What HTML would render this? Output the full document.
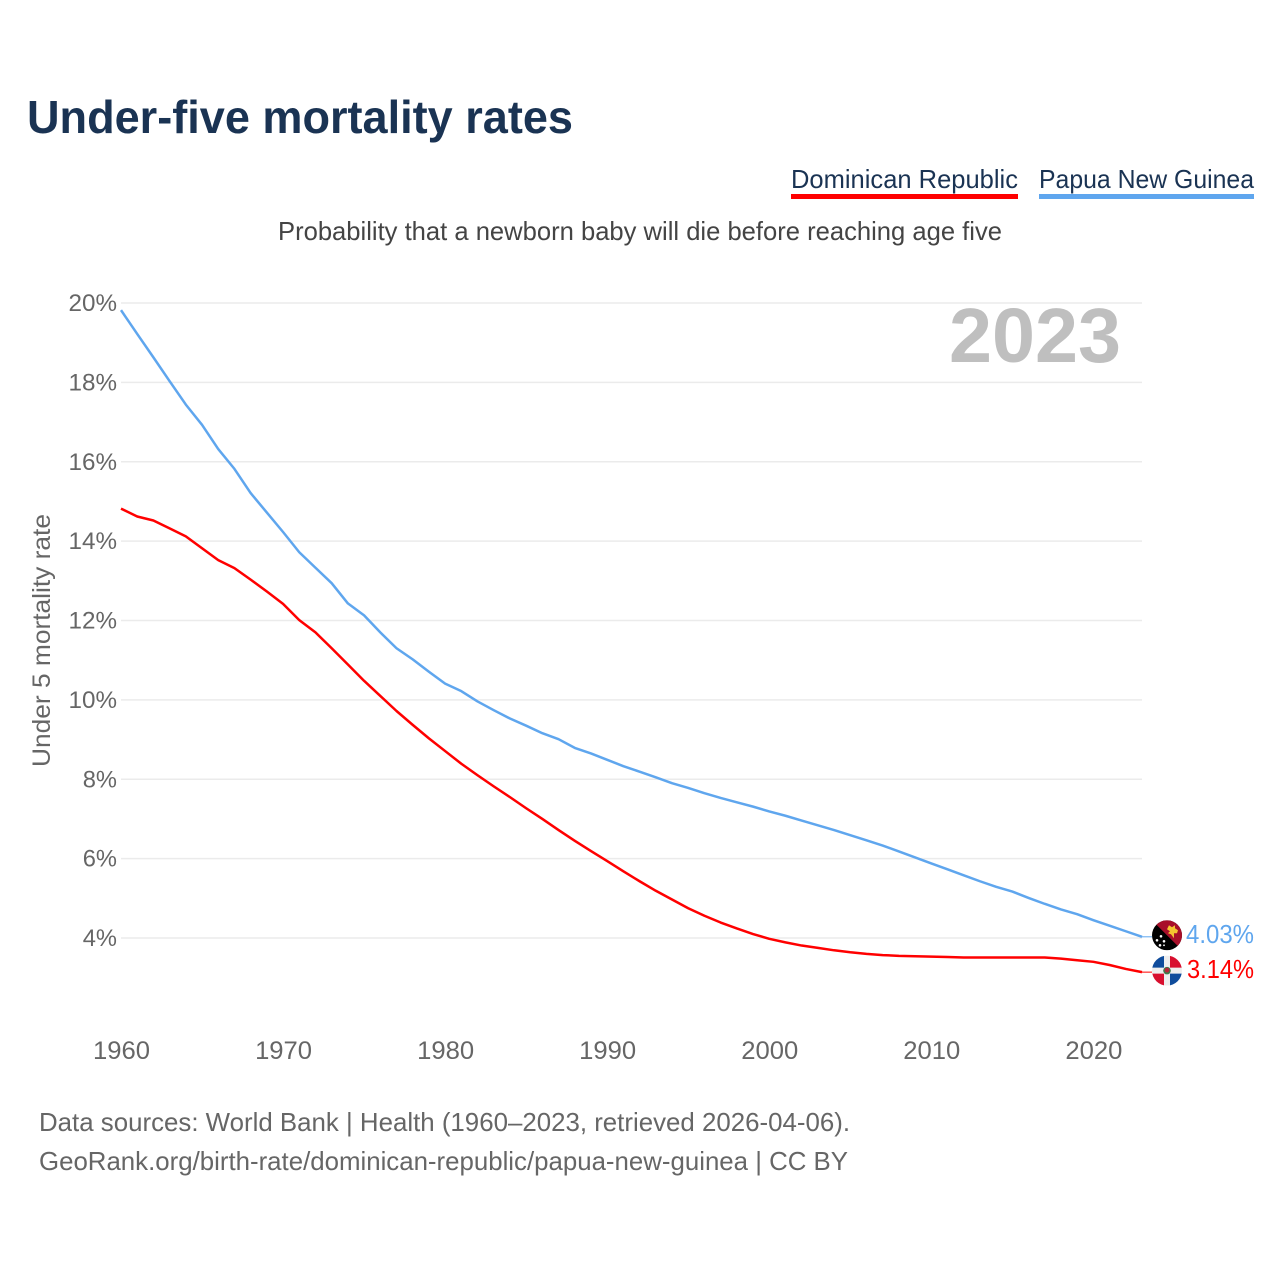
<!DOCTYPE html>
<html lang="en">
<head>
<meta charset="utf-8">
<title>Under-five mortality rates</title>
<style>
html,body{margin:0;padding:0;background:#fff;}
svg{display:block;font-family:"Liberation Sans",sans-serif;}
</style>
</head>
<body>
<svg id="chart" xmlns="http://www.w3.org/2000/svg" width="1280" height="1280" viewBox="0 0 1280 1280">
  <rect x="0" y="0" width="1280" height="1280" fill="#ffffff"/>
  <text x="27" y="133" font-size="46" font-weight="700" fill="#1a3353" textLength="546" lengthAdjust="spacingAndGlyphs">Under-five mortality rates</text>

  <g>
    <text x="791" y="188" font-size="26" fill="#1a3353" textLength="227" lengthAdjust="spacingAndGlyphs">Dominican Republic</text>
    <rect x="791" y="194" width="227" height="5" fill="#ff0000"/>
  </g>
  <g>
    <text x="1039" y="188" font-size="26" fill="#1a3353" textLength="215" lengthAdjust="spacingAndGlyphs">Papua New Guinea</text>
    <rect x="1039" y="194" width="215" height="5" fill="#5fa6ee"/>
  </g>

  <text x="278" y="240" font-size="26" fill="#444444" textLength="724" lengthAdjust="spacingAndGlyphs">Probability that a newborn baby will die before reaching age five</text>

  <g id="grid"></g>
  <g id="y-ticks"></g>
  <g id="x-ticks"></g>

  <text transform="translate(50,767) rotate(-90)" x="0" y="0" font-size="25" fill="#666666" textLength="253" lengthAdjust="spacingAndGlyphs">Under 5 mortality rate</text>

  <text x="949" y="362" font-size="77" font-weight="700" fill="#bfbfbf" textLength="172" lengthAdjust="spacingAndGlyphs">2023</text>

  <g id="series"></g>

  <defs>
    <clipPath id="flag-clip"><circle cx="0" cy="0" r="15"/></clipPath>
  </defs>

  <g id="flag-pg">
    <g clip-path="url(#flag-clip)">
      <rect x="-15" y="-15" width="30" height="30" fill="#000000"/>
      <polygon points="-15,-15 15,-15 15,15" fill="#a80f2a"/>
      <polygon points="0,-6 2,-10 5,-8 8,-10 8,-7 11,-5 10,-2 7,-2 7,3 4,-1 1,-2 3,-4" fill="#f4c430"/>
      <circle cx="-6" cy="1" r="1.3" fill="#fff"/>
      <circle cx="-10" cy="5" r="1.3" fill="#fff"/>
      <circle cx="-3" cy="6" r="1.3" fill="#fff"/>
      <circle cx="-7" cy="10" r="1.3" fill="#fff"/>
      <circle cx="-3" cy="10" r="0.9" fill="#fff"/>
    </g>
  </g>
  <g id="flag-do">
    <g clip-path="url(#flag-clip)">
      <rect x="-15" y="-15" width="30" height="30" fill="#eeeeee"/>
      <rect x="-15" y="-15" width="12" height="12" fill="#0f4c9c"/>
      <rect x="3" y="-15" width="12" height="12" fill="#d80f2e"/>
      <rect x="-15" y="3" width="12" height="12" fill="#d80f2e"/>
      <rect x="3" y="3" width="12" height="12" fill="#0f4c9c"/>
      <circle cx="0" cy="0" r="3.8" fill="#3f7a4a"/>
      <circle cx="0" cy="-0.5" r="2.4" fill="#b5263a"/>
    </g>
  </g>

  <text id="label-pg" x="1186" font-size="26" fill="#5fa6ee" textLength="68" lengthAdjust="spacingAndGlyphs"></text>
  <text id="label-do" x="1187" font-size="26" fill="#ff0000" textLength="67" lengthAdjust="spacingAndGlyphs"></text>

  <text x="39" y="1131" font-size="26" fill="#666666" textLength="811" lengthAdjust="spacingAndGlyphs">Data sources: World Bank | Health (1960–2023, retrieved 2026-04-06).</text>
  <text x="39" y="1170" font-size="26" fill="#666666" textLength="809" lengthAdjust="spacingAndGlyphs">GeoRank.org/birth-rate/dominican-republic/papua-new-guinea | CC BY</text>
</svg>

<script>
const startYear = 1960;
const xTickYears = [1960, 1970, 1980, 1990, 2000, 2010, 2020];
const yTickValues = [4, 6, 8, 10, 12, 14, 16, 18, 20];
const papuaNewGuinea = [
  19.82, 19.22, 18.63, 18.03, 17.44, 16.93, 16.32, 15.82, 15.21, 14.72,
  14.23, 13.72, 13.33, 12.94, 12.43, 12.13, 11.70, 11.30, 11.02, 10.71,
  10.41, 10.22, 9.96, 9.74, 9.53, 9.35, 9.16, 9.01, 8.79, 8.65,
  8.49, 8.33, 8.19, 8.05, 7.90, 7.78, 7.65, 7.53, 7.42, 7.31,
  7.19, 7.08, 6.96, 6.84, 6.72, 6.59, 6.46, 6.33, 6.18, 6.03,
  5.88, 5.73, 5.58, 5.43, 5.29, 5.17, 5.01, 4.86, 4.72, 4.60,
  4.45, 4.31, 4.17, 4.03
];
const dominicanRepublic = [
  14.82, 14.62, 14.52, 14.32, 14.12, 13.82, 13.52, 13.32, 13.03, 12.73,
  12.42, 12.01, 11.70, 11.30, 10.89, 10.48, 10.10, 9.72, 9.37, 9.03,
  8.71, 8.39, 8.10, 7.82, 7.55, 7.27, 7.00, 6.72, 6.45, 6.19,
  5.94, 5.68, 5.43, 5.19, 4.97, 4.75, 4.56, 4.39, 4.24, 4.10,
  3.98, 3.89, 3.81, 3.75, 3.69, 3.64, 3.60, 3.57, 3.55, 3.54,
  3.53, 3.52, 3.51, 3.51, 3.51, 3.51, 3.51, 3.51, 3.48, 3.44,
  3.40, 3.32, 3.22, 3.14
];

const NS = 'http://www.w3.org/2000/svg';
function xScale(year) { return 121 + (year - 1960) * (1142 - 121) / 63; }
function yScale(value) { return 938 - (value - 4) * (938 - 303) / 16; }
function make(tag, attrs, parent) {
  const el = document.createElementNS(NS, tag);
  for (const k in attrs) el.setAttribute(k, attrs[k]);
  parent.appendChild(el);
  return el;
}

const gridGroup = document.getElementById('grid');
const yTickGroup = document.getElementById('y-ticks');
yTickValues.forEach(function (v) {
  const y = yScale(v);
  const line = make('line', { x1: 121, x2: 1142, y1: y, y2: y, stroke: '#ebebeb', 'stroke-width': 1.5 }, gridGroup);
  
  
  const text = v + '%';
  const width = 14.25 * (text.length - 1) + 20;
  const label = make('text', { x: 117 - width, y: y + 8, 'font-size': 24, fill: '#666666', textLength: width, lengthAdjust: 'spacingAndGlyphs' }, yTickGroup);
  label.textContent = text;
  
  
});

const xTickGroup = document.getElementById('x-ticks');
xTickYears.forEach(function (yr) {
  const label = make('text', { x: xScale(yr) - 28, y: 1059, 'font-size': 25, fill: '#666666', textLength: 57, lengthAdjust: 'spacingAndGlyphs' }, xTickGroup);
  label.textContent = String(yr);
  
  
});

const seriesGroup = document.getElementById('series');
function drawSeries(values, colour, seriesName, flagId, labelId) {
  const endYear = startYear + values.length - 1;
  const endX = xScale(endYear);
  const endValue = values[values.length - 1];
  const endY = yScale(endValue);
  const pts = values.map(function (v, i) {
    return xScale(startYear + i).toFixed(2) + ',' + yScale(v).toFixed(2);
  }).join(' ');
  const line = make('polyline', { points: pts, fill: 'none', stroke: colour, 'stroke-width': 2.5, 'stroke-linejoin': 'round' }, seriesGroup);
  
  
  const connector = make('line', { x1: endX, x2: endX + 10, y1: endY, y2: endY, stroke: colour, 'stroke-width': 1 }, seriesGroup);
  
  
  document.getElementById(flagId).setAttribute('transform', 'translate(' + (endX + 25) + ',' + (endY - 1.5) + ')');
  const label = document.getElementById(labelId);
  label.setAttribute('y', endY + 6);
  label.textContent = endValue.toFixed(2) + '%';
}
drawSeries(papuaNewGuinea, '#5fa6ee', 'line-papua-new-guinea', 'flag-pg', 'label-pg');
drawSeries(dominicanRepublic, '#ff0000', 'line-dominican-republic', 'flag-do', 'label-do');
</script>
</body>
</html>
